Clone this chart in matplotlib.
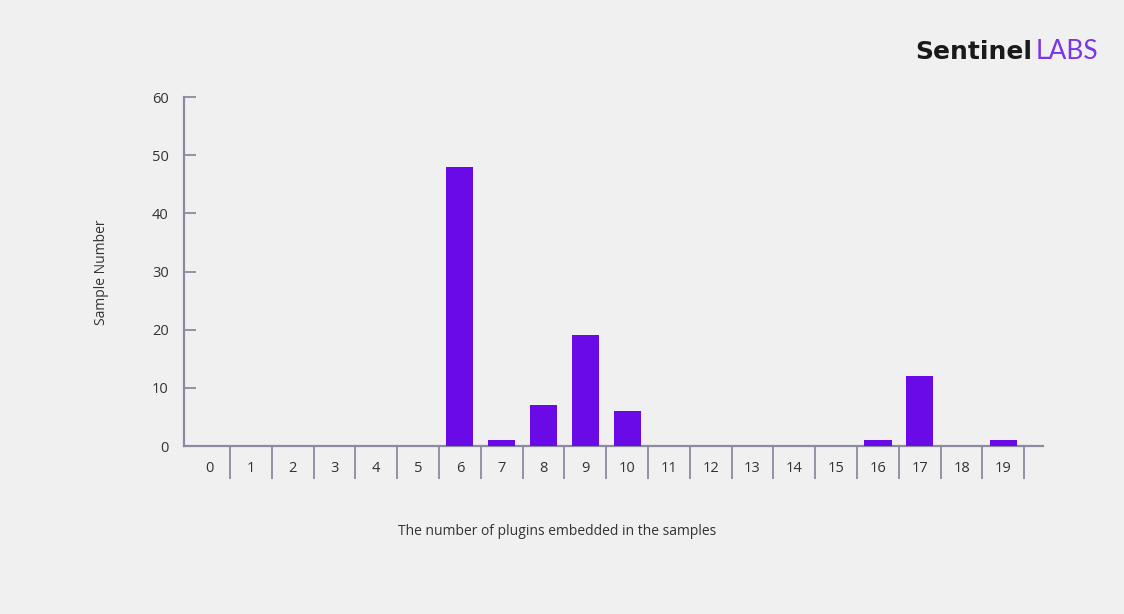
import matplotlib.pyplot as plt

# plugin count per sample -> number of samples
plugin_counts = list(range(20))
sample_numbers = [0, 0, 0, 0, 0, 0, 48, 1, 7, 19, 6, 0, 0, 0, 0, 0, 1, 12, 0, 1]
y_ticks = [0, 10, 20, 30, 40, 50, 60]

bar_color = '#6a0ae6'
axis_color = '#8c8aa0'
text_color = '#333333'
bg_color = '#f0f0f0'

plt.rcParams['font.family'] = ['Open Sans', 'DejaVu Sans']

fig = plt.figure(figsize=(11.24, 6.14), dpi=100, facecolor=bg_color)
ax = fig.add_axes([0.1637, 0.2736, 0.9280 - 0.1637, 0.842 - 0.2736])
ax.set_facecolor('none')

ax.bar(plugin_counts, sample_numbers, width=0.65, color=bar_color, zorder=3)

ax.set_xlim(-0.6, 19.95)
ax.set_ylim(0, 60)

for side in ['top', 'right']:
    ax.spines[side].set_visible(False)
for side in ['left', 'bottom']:
    ax.spines[side].set_color(axis_color)
    ax.spines[side].set_linewidth(1.6)

# y axis ticks point inward
ax.set_yticks(y_ticks)
ax.tick_params(axis='y', direction='in', length=8.5, width=1.3, color=axis_color,
               pad=11, labelsize=10.5, labelcolor=text_color)

# x labels centred on bars, separator lines between categories
ax.set_xticks(plugin_counts)
ax.set_xticks([c + 0.5 for c in plugin_counts], minor=True)
ax.tick_params(axis='x', which='major', length=0, pad=11, labelsize=10.5,
               labelcolor=text_color)
ax.tick_params(axis='x', which='minor', direction='out', length=24, width=1.3,
               color=axis_color)

fig.text(0.0899, 0.557, 'Sample Number', rotation=90, ha='center', va='center',
         fontsize=10, color=text_color)
fig.text(0.4955, 0.135, 'The number of plugins embedded in the samples',
         ha='center', va='center', fontsize=10, color=text_color)

# logo
fig.text(0.9185, 0.916, 'Sentinel', ha='right', va='center', fontsize=18,
         fontweight='bold', color='#1a1a1a', family=['DejaVu Sans'])
fig.text(0.9210, 0.916, 'LABS', ha='left', va='center', fontsize=19,
         fontweight='normal', color='#7b35e8', family=['Lato', 'DejaVu Sans'])

plt.savefig('out.png', dpi=100, facecolor=bg_color)
